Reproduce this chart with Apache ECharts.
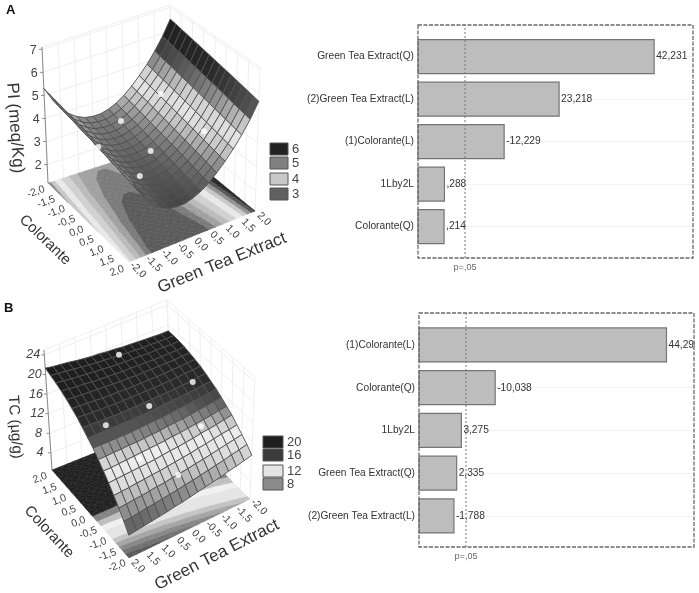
<!DOCTYPE html>
<html>
<head>
<meta charset="utf-8">
<script src="https://cdn.jsdelivr.net/npm/echarts@6/dist/echarts.min.js"></script>
<style>
  html, body { margin: 0; background: #fff; }
  #main { width: 699px; height: 593px; filter: blur(0.45px); }
</style>
</head>
<body>
<div id="main"></div>
<script>
// pareto A
var categoriesA = ['Green Tea Extract(Q)', '(2)Green Tea Extract(L)', '(1)Colorante(L)', '1Lby2L', 'Colorante(Q)'];
var valuesA = [42.231, 23.218, 12.229, 0.288, 0.214];
var labelsA = ['42,231', '23,218', '-12,229', ',288', ',214'];
var pLineA = 4.4;
// pareto B
var categoriesB = ['(1)Colorante(L)', 'Colorante(Q)', '1Lby2L', 'Green Tea Extract(Q)', '(2)Green Tea Extract(L)'];
var valuesB = [44.296, 10.038, 3.275, 2.335, 1.788];
var labelsB = ['44,296', '-10,038', '3,275', '2,335', '-1,788'];
var pLineB = 4.2;

var axisTicks = ['-2,0', '-1,5', '-1,0', '-0,5', '0,0', '0,5', '1,0', '1,5', '2,0'];
var axisTickValues = [-2, -1.5, -1, -0.5, 0, 0.5, 1, 1.5, 2];
var zTicksA = [2, 3, 4, 5, 6, 7];
var zTicksB = [4, 8, 12, 16, 20, 24];
var legendA = ['6', '5', '4', '3'];
var legendB = ['20', '16', '12', '8'];

// surface A: PI, rows Colorante -2..2 (step .25), columns Green Tea Extract -2..2 (step .25)
var surfaceA = [
[5.30,4.71,4.25,3.88,3.64,3.49,3.43,3.43,3.52,3.67,3.89,4.18,4.52,4.90,5.35,5.87,6.50],
[5.25,4.66,4.20,3.83,3.59,3.44,3.38,3.38,3.47,3.62,3.84,4.13,4.47,4.85,5.30,5.82,6.45],
[5.20,4.61,4.15,3.78,3.54,3.39,3.33,3.33,3.42,3.57,3.79,4.08,4.42,4.80,5.25,5.77,6.40],
[5.15,4.56,4.10,3.73,3.49,3.34,3.28,3.28,3.37,3.52,3.74,4.03,4.37,4.75,5.20,5.72,6.35],
[5.10,4.51,4.05,3.68,3.44,3.29,3.23,3.23,3.32,3.47,3.69,3.98,4.32,4.70,5.15,5.67,6.30],
[5.05,4.46,4.00,3.63,3.39,3.24,3.18,3.18,3.27,3.42,3.64,3.93,4.27,4.65,5.10,5.62,6.25],
[5.00,4.41,3.95,3.58,3.34,3.19,3.13,3.13,3.22,3.37,3.59,3.88,4.22,4.60,5.05,5.57,6.20],
[4.95,4.36,3.90,3.53,3.29,3.14,3.08,3.08,3.17,3.32,3.54,3.83,4.17,4.55,5.00,5.52,6.15],
[4.90,4.31,3.85,3.48,3.24,3.09,3.03,3.03,3.12,3.27,3.49,3.78,4.12,4.50,4.95,5.47,6.10],
[4.85,4.26,3.80,3.43,3.19,3.04,2.98,2.98,3.07,3.22,3.44,3.73,4.07,4.45,4.90,5.42,6.05],
[4.80,4.21,3.75,3.38,3.14,2.99,2.93,2.93,3.02,3.17,3.39,3.68,4.02,4.40,4.85,5.37,6.00],
[4.75,4.16,3.70,3.33,3.09,2.94,2.88,2.88,2.97,3.12,3.34,3.63,3.97,4.35,4.80,5.32,5.95],
[4.70,4.11,3.65,3.28,3.04,2.89,2.83,2.83,2.92,3.07,3.29,3.58,3.92,4.30,4.75,5.27,5.90],
[4.65,4.06,3.60,3.23,2.99,2.84,2.78,2.78,2.87,3.02,3.24,3.53,3.87,4.25,4.70,5.22,5.85],
[4.60,4.01,3.55,3.18,2.94,2.79,2.73,2.73,2.82,2.97,3.19,3.48,3.82,4.20,4.65,5.17,5.80],
[4.55,3.96,3.50,3.13,2.89,2.74,2.68,2.68,2.77,2.92,3.14,3.43,3.77,4.15,4.60,5.12,5.75],
[4.50,3.91,3.45,3.08,2.84,2.69,2.63,2.63,2.72,2.87,3.09,3.38,3.72,4.10,4.55,5.07,5.70]
];
// surface B: TC, same layout
var surfaceB = [
[9.3,8.9,8.5,8.2,7.8,7.5,7.2,6.9,6.6,6.3,6.1,5.8,5.6,5.4,5.2,5.0,4.8],
[10.5,10.1,9.8,9.4,9.1,8.8,8.5,8.2,8.0,7.7,7.5,7.3,7.1,6.9,6.7,6.5,6.4],
[11.5,11.2,10.9,10.6,10.3,10.0,9.8,9.5,9.3,9.1,8.8,8.7,8.5,8.3,8.2,8.0,7.9],
[12.5,12.2,12.0,11.7,11.4,11.2,10.9,10.7,10.5,10.3,10.1,10.0,9.8,9.7,9.5,9.4,9.3],
[13.5,13.2,12.9,12.7,12.5,12.2,12.0,11.8,11.7,11.5,11.3,11.2,11.1,11.0,10.9,10.8,10.7],
[14.3,14.1,13.8,13.6,13.4,13.2,13.0,12.9,12.7,12.6,12.5,12.4,12.3,12.2,12.1,12.0,12.0],
[15.1,14.9,14.7,14.5,14.3,14.1,14.0,13.9,13.7,13.6,13.5,13.4,13.4,13.3,13.3,13.2,13.2],
[15.8,15.6,15.4,15.3,15.1,15.0,14.9,14.7,14.7,14.6,14.5,14.4,14.4,14.4,14.4,14.4,14.4],
[16.4,16.3,16.1,16.0,15.9,15.8,15.7,15.6,15.5,15.4,15.4,15.4,15.4,15.4,15.4,15.4,15.4],
[17.0,16.9,16.7,16.6,16.5,16.4,16.4,16.3,16.3,16.2,16.2,16.2,16.2,16.3,16.3,16.4,16.4],
[17.5,17.4,17.3,17.2,17.1,17.1,17.0,17.0,17.0,17.0,17.0,17.0,17.1,17.1,17.2,17.3,17.4],
[17.9,17.8,17.7,17.7,17.6,17.6,17.6,17.6,17.6,17.6,17.7,17.7,17.8,17.9,18.0,18.1,18.2],
[18.2,18.2,18.1,18.1,18.1,18.1,18.1,18.1,18.2,18.2,18.3,18.4,18.5,18.6,18.7,18.8,19.0],
[18.5,18.4,18.4,18.4,18.4,18.5,18.5,18.6,18.6,18.7,18.8,18.9,19.0,19.2,19.3,19.5,19.7],
[18.7,18.6,18.7,18.7,18.7,18.8,18.9,18.9,19.0,19.1,19.3,19.4,19.6,19.7,19.9,20.1,20.3],
[18.8,18.8,18.8,18.9,18.9,19.0,19.1,19.2,19.4,19.5,19.6,19.8,20.0,20.2,20.4,20.6,20.8],
[18.8,18.8,18.9,19.0,19.1,19.2,19.3,19.5,19.6,19.8,19.9,20.1,20.3,20.6,20.8,21.0,21.3]
];
// measured points [extract, colorante, response]
var pointsA = [[1, -1, 4.44], [1, 1, 4.27], [-1, -1, 3.1], [-1, 1, 3.38], [0, 0, 3.22], [0, -1.41, 3.45]];
var pointsB = [[0, 0, 16.6], [0, 1.41, 21.3], [-1.41, 0, 17.8], [1.41, 0, 16.4], [-1, -1, 13.9], [1, -1, 12.75], [0, -1.41, 8.6]];

// gray ramps for the surfaces, [response, gray]
var rampA = [[2.6, 66], [3, 94], [3.5, 132], [3.9, 190], [4.3, 228], [4.8, 205], [5.1, 140], [5.45, 78], [5.8, 40], [6.5, 26]];
var rampB = [[4.5, 85], [6, 106], [8, 165], [10, 220], [12, 238], [13, 196], [14, 132], [15, 80], [16.5, 44], [19, 32], [22, 26]];
// contour bands on the floors
var floorLevelsA = [0, 3.15, 3.4, 3.7, 4, 4.4, 4.8, 5.1, 5.4, 5.7, 9];
var floorGraysA = [90, 122, 160, 186, 208, 232, 200, 144, 85, 40];
var floorLevelsB = [0, 6, 7, 8, 9, 10, 12, 13, 14, 15, 30];
var floorGraysB = [90, 112, 135, 165, 195, 228, 240, 190, 130, 34];

// box corners in page pixels: floor and top, index = (extract high?1:0) + (colorante high?2:0)
var panelA = {
  floor: [[48, 183], [172, 143], [129, 262], [255, 211]],
  top: [[42, 47], [170, 5], [128, 110], [260, 67]],
  zMin: 1.2, zMax: 7.1, table: surfaceA, ramp: rampA, points: pointsA, zTicks: zTicksA,
  levels: floorLevelsA, grays: floorGraysA,
  backC: -2, backG: 2, axisG: -2, italicZ: false,
  colOff: [-12, 9], extOff: [9, 8], zOff: [-9, 1]
};
var panelB = {
  floor: [[250, 499], [129, 558], [172, 422], [52, 470]],
  top: [[255, 377], [128, 428], [167, 300], [44, 350]],
  zMin: 0.5, zMax: 25, table: surfaceB, ramp: rampB, points: pointsB, zTicks: zTicksB,
  levels: floorLevelsB, grays: floorGraysB,
  backC: 2, backG: -2, axisG: 2, italicZ: true,
  colOff: [-12, 8], extOff: [9, 8], zOff: [-11, 0]
};

function project(p, g, c, z) {
  var u = (g + 2) / 4, v = (c + 2) / 4, w = (z - p.zMin) / (p.zMax - p.zMin);
  var wt = [(1 - u) * (1 - v), u * (1 - v), (1 - u) * v, u * v];
  var x = 0, y = 0;
  for (var k = 0; k < 4; k++) {
    x += wt[k] * (p.floor[k][0] + (p.top[k][0] - p.floor[k][0]) * w);
    y += wt[k] * (p.floor[k][1] + (p.top[k][1] - p.floor[k][1]) * w);
  }
  return [x, y];
}
function grayCss(v) {
  v = Math.round(v);
  return 'rgb(' + v + ',' + v + ',' + v + ')';
}
function grayOf(ramp, z) {
  var v = ramp[ramp.length - 1][1];
  if (z <= ramp[0][0]) v = ramp[0][1];
  else for (var i = 1; i < ramp.length; i++) {
    if (z <= ramp[i][0]) {
      var t = (z - ramp[i - 1][0]) / (ramp[i][0] - ramp[i - 1][0]);
      v = ramp[i - 1][1] + (ramp[i][1] - ramp[i - 1][1]) * t;
      break;
    }
  }
  return grayCss(v);
}
var CELLS = 16;
function nodeAt(i) { return -2 + i * 0.25; }

function clipBy(poly, level, sign) {
  var out = [];
  for (var i = 0; i < poly.length; i++) {
    var a = poly[i], b = poly[(i + 1) % poly.length];
    var da = (a[2] - level) * sign, db = (b[2] - level) * sign;
    if (da >= 0) out.push(a);
    if (da * db < 0) {
      var t = da / (da - db);
      out.push([a[0] + (b[0] - a[0]) * t, a[1] + (b[1] - a[1]) * t, a[2] + (b[2] - a[2]) * t]);
    }
  }
  return out;
}

function polygonSeries(list) {
  return {
    type: 'custom', coordinateSystem: 'cartesian2d', xAxisIndex: 0, yAxisIndex: 0,
    silent: true, animation: false, clip: false,
    data: list.map(function (d, i) { return [i]; }),
    renderItem: function (params, api) {
      var it = list[params.dataIndex];
      return {
        type: it.line ? 'polyline' : 'polygon',
        shape: { points: it.pts.map(function (q) { return api.coord(q); }) },
        style: it.line
          ? { fill: null, stroke: it.stroke, lineWidth: it.width }
          : { fill: it.fill, stroke: it.stroke, lineWidth: it.width }
      };
    }
  };
}
function textSeries(list) {
  return {
    type: 'custom', coordinateSystem: 'cartesian2d', xAxisIndex: 0, yAxisIndex: 0,
    silent: true, animation: false, clip: false,
    data: list.map(function (d, i) { return [i]; }),
    renderItem: function (params, api) {
      var it = list[params.dataIndex];
      var q = api.coord(it.at);
      return {
        type: 'text', x: q[0], y: q[1], rotation: it.rot * Math.PI / 180,
        style: {
          text: it.text, fill: '#444', align: 'center', verticalAlign: 'middle',
          font: (it.italic ? 'italic ' : '') + it.size + 'px "Liberation Sans", Arial, sans-serif'
        }
      };
    }
  };
}

function panelSeries(p) {
  // back walls
  var walls = [];
  function wallLine(a, b, col, w) { walls.push({ line: true, pts: [a, b], stroke: col || '#efefef', width: w || 1 }); }
  axisTickValues.forEach(function (t) {
    wallLine(project(p, t, p.backC, p.zMin), project(p, t, p.backC, p.zMax));
    wallLine(project(p, p.backG, t, p.zMin), project(p, p.backG, t, p.zMax));
  });
  p.zTicks.concat([p.zMax]).forEach(function (z) {
    wallLine(project(p, -p.backG, p.backC, z), project(p, p.backG, p.backC, z));
    wallLine(project(p, p.backG, p.backC, z), project(p, p.backG, -p.backC, z));
  });
  wallLine(project(p, p.axisG, p.backC, p.zMin), project(p, p.axisG, p.backC, p.zMax), '#8a8a8a', 1);
  p.zTicks.forEach(function (z) {
    var a = project(p, p.axisG, p.backC, z);
    wallLine([a[0] - 3, a[1]], a, '#8a8a8a', 1);
  });

  // floor contours
  var floor = [];
  var t = p.table;
  for (var j = 0; j < CELLS; j++) {
    for (var i = 0; i < CELLS; i++) {
      var a = [nodeAt(i), nodeAt(j), t[j][i]], b = [nodeAt(i + 1), nodeAt(j), t[j][i + 1]];
      var c = [nodeAt(i + 1), nodeAt(j + 1), t[j + 1][i + 1]], d = [nodeAt(i), nodeAt(j + 1), t[j + 1][i]];
      [[a, b, c], [a, c, d]].forEach(function (tri) {
        for (var k = 0; k < p.grays.length; k++) {
          var poly = clipBy(clipBy(tri, p.levels[k], 1), p.levels[k + 1], -1);
          if (poly.length < 3) continue;
          var col = grayCss(p.grays[k]);
          floor.push({ fill: col, stroke: col, width: 0.5, pts: poly.map(function (q) { return project(p, q[0], q[1], p.zMin); }) });
        }
      });
    }
  }

  // surface, back to front
  var mesh = [];
  for (var jj = 0; jj < CELLS; jj++) {
    var r = p.backC < 0 ? jj : CELLS - 1 - jj;
    for (var ii = 0; ii < CELLS; ii++) {
      var s = p.backG > 0 ? CELLS - 1 - ii : ii;
      var zm = (t[r][s] + t[r][s + 1] + t[r + 1][s] + t[r + 1][s + 1]) / 4;
      mesh.push({
        fill: grayOf(p.ramp, zm), stroke: '#505050', width: 0.9,
        pts: [
          project(p, nodeAt(s), nodeAt(r), t[r][s]), project(p, nodeAt(s + 1), nodeAt(r), t[r][s + 1]),
          project(p, nodeAt(s + 1), nodeAt(r + 1), t[r + 1][s + 1]), project(p, nodeAt(s), nodeAt(r + 1), t[r + 1][s])
        ]
      });
    }
  }

  // tick labels
  var texts = [];
  var nearC = -p.backC;
  axisTickValues.forEach(function (v, k) {
    var q = project(p, p.axisG, v, p.zMin);
    texts.push({ text: axisTicks[k], at: [q[0] + p.colOff[0], q[1] + p.colOff[1]], rot: 20, size: 10.5 });
    var e = project(p, v, nearC, p.zMin);
    texts.push({ text: axisTicks[k], at: [e[0] + p.extOff[0], e[1] + p.extOff[1]], rot: -45, size: 10.5 });
  });
  p.zTicks.forEach(function (z) {
    var q = project(p, p.axisG, p.backC, z);
    texts.push({ text: String(z), at: [q[0] + p.zOff[0], q[1] + p.zOff[1]], rot: 0, size: 12.5, italic: p.italicZ });
  });

  var dots = {
    type: 'scatter', xAxisIndex: 0, yAxisIndex: 0, symbolSize: 6, silent: true, animation: false, z: 4,
    itemStyle: { color: '#fff' },
    data: p.points.map(function (q) { return project(p, q[0], q[1], q[2]); })
  };
  return [polygonSeries(walls), polygonSeries(floor), polygonSeries(mesh), dots, textSeries(texts)];
}

// bars start at the left end of the axis, as in the original plot
function barSeries(xi, vals, labels, minV) {
  return {
    type: 'custom', coordinateSystem: 'cartesian2d', xAxisIndex: xi, yAxisIndex: xi, silent: true, animation: false, clip: false,
    encode: { x: 0, y: 1 },
    data: vals.map(function (v, i) { return [v, i]; }),
    renderItem: function (params, api) {
      var end = api.coord([api.value(0), api.value(1)]);
      var start = api.coord([minV, api.value(1)]);
      return {
        type: 'group',
        children: [{
          type: 'rect',
          shape: { x: start[0], y: end[1] - 17, width: end[0] - start[0], height: 34 },
          style: { fill: '#bdbdbd', stroke: '#757575', lineWidth: 1.2 }
        }, {
          type: 'text', x: end[0] + 2, y: end[1],
          style: { text: labels[params.dataIndex], fill: '#333', align: 'left', verticalAlign: 'middle', font: '10.2px "Liberation Sans", Arial, sans-serif' }
        }]
      };
    }
  };
}
function pLine(xi, v) {
  return {
    type: 'line', xAxisIndex: xi, yAxisIndex: xi, data: [[v, 0], [v, 1]], symbol: 'none', silent: true, animation: false, z: 5,
    lineStyle: { color: '#777', width: 1, type: [2, 2] }
  };
}
function catAxis(gi, cats) {
  return {
    type: 'category', gridIndex: gi, inverse: true, data: cats,
    axisLine: { show: false }, axisTick: { show: false, alignWithLabel: true },
    splitLine: { show: true, alignWithLabel: true, lineStyle: { color: '#f2f2f2' } },
    axisLabel: { color: '#333', fontSize: 10.2, margin: 4, fontFamily: 'Liberation Sans' }
  };
}
function hiddenX(gi, lo, hi) {
  return { type: 'value', gridIndex: gi, min: lo, max: hi, show: false };
}
function frameX(gi, lo, hi, p) {
  return {
    type: 'value', gridIndex: gi, min: lo, max: hi,
    axisLine: { show: false }, axisTick: { show: false }, splitLine: { show: false },
    axisLabel: { customValues: [p], formatter: function () { return 'p=,05'; }, color: '#666', fontSize: 9, margin: 5, fontFamily: 'Liberation Sans' }
  };
}
function frameY(gi) { return { type: 'value', gridIndex: gi, min: 0, max: 1, show: false }; }

var letterFont = 'bold 13px "Liberation Sans", Arial, sans-serif';
function axisTitle(text, x, y, rot, size) {
  return {
    type: 'text', x: x, y: y, rotation: rot * Math.PI / 180, z: 20,
    style: { text: text, fill: '#333', align: 'center', verticalAlign: 'middle', font: size + 'px "Liberation Sans", Arial, sans-serif' }
  };
}
function legendItems(labels, fills, x, w, ys, h, size) {
  var out = [];
  labels.forEach(function (l, i) {
    out.push({ type: 'rect', shape: { x: x, y: ys[i], width: w, height: h }, z: 20, style: { fill: fills[i], stroke: '#555', lineWidth: 1 } });
    out.push({ type: 'text', x: x + w + 4, y: ys[i] + h / 2, z: 20, style: { text: l, fill: '#444', align: 'left', verticalAlign: 'middle', font: size + 'px "Liberation Sans", Arial, sans-serif' } });
  });
  return out;
}
function frameRect(x, y, w, h) {
  return { type: 'rect', shape: { x: x, y: y, width: w, height: h }, z: 20, style: { fill: null, stroke: '#6a6a6a', lineWidth: 1.3, lineDash: [4, 1.5] } };
}

var chart = echarts.init(document.getElementById('main'));
chart.setOption({
  backgroundColor: '#fff',
  grid: [
    { left: 0, top: 0, width: 699, height: 593 },
    { left: 418, top: 35.4, width: 275, height: 212.5 },
    { left: 419, top: 323.6, width: 275, height: 213.7 },
    { left: 418, top: 25, width: 275, height: 233 },
    { left: 419, top: 313, width: 275, height: 234 }
  ],
  xAxis: [
    { type: 'value', gridIndex: 0, min: 0, max: 699, show: false },
    hiddenX(1, -5, 50), hiddenX(2, -5.2, 49.8),
    frameX(3, -5, 50, pLineA), frameX(4, -5.2, 49.8, pLineB)
  ],
  yAxis: [
    { type: 'value', gridIndex: 0, min: 0, max: 593, inverse: true, show: false },
    catAxis(1, categoriesA), catAxis(2, categoriesB),
    frameY(3), frameY(4)
  ],
  series: panelSeries(panelA).concat(panelSeries(panelB)).concat([
    barSeries(1, valuesA, labelsA, -5),
    barSeries(2, valuesB, labelsB, -5.2),
    pLine(3, pLineA), pLine(4, pLineB)
  ]),
  graphic: [
    { type: 'text', x: 6, y: 4, z: 20, style: { text: 'A', fill: '#111', font: letterFont } },
    { type: 'text', x: 4, y: 302, z: 20, style: { text: 'B', fill: '#111', font: letterFont } },
    axisTitle('PI (meq/Kg)', 15, 128, -86, 17),
    axisTitle('TC (µg/g)', 15, 427, -86, 15),
    axisTitle('Colorante', 45, 240, -44, 15),
    axisTitle('Colorante', 49, 532, -47, 15),
    axisTitle('Green Tea Extract', 222, 263, 22, 17),
    axisTitle('Green Tea Extract', 217, 555, 27, 17),
    { type: 'rect', shape: { x: 695, y: 330, width: 4, height: 30 }, z: 19, style: { fill: '#fff' } },
    frameRect(418, 25, 275, 233),
    frameRect(419, 313, 275, 234)
  ].concat(
    legendItems(legendA, ['#222', '#808080', '#c8c8c8', '#606060'], 270, 18, [143, 157, 173, 188], 12, 13),
    legendItems(legendB, ['#1e1e1e', '#3c3c3c', '#e4e4e4', '#8c8c8c'], 263, 20, [436, 449, 465, 478], 12, 13)
  )
});
</script>
</body>
</html>
